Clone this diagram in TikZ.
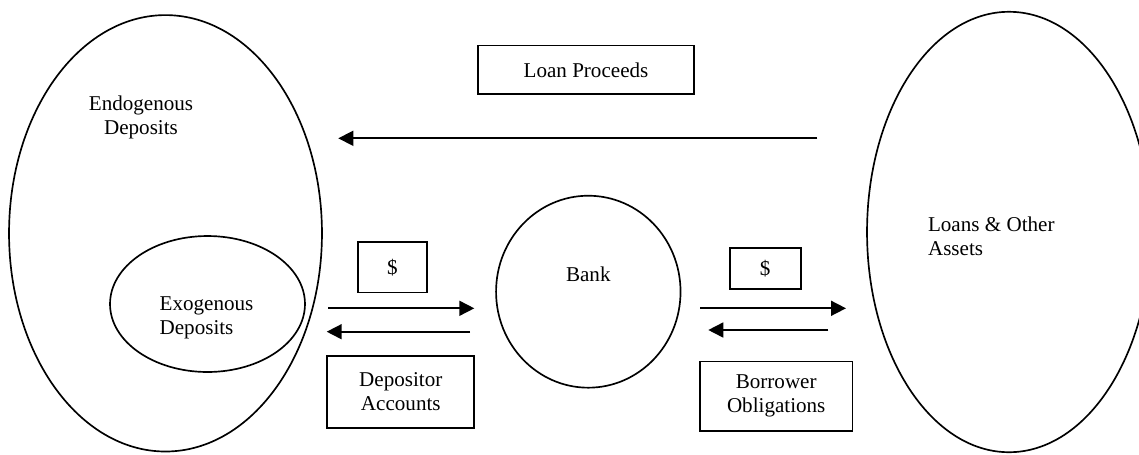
\documentclass[tikz,border=0pt]{standalone}
\usepackage{fontspec}
\setmainfont{Liberation Serif}
\usetikzlibrary{shapes.geometric,arrows.meta}
\begin{document}
\begin{tikzpicture}[x=0.02cm,y=-0.02cm,
  every node/.style={font=\fontsize{12}{13.6}\selectfont},
  oval/.style={draw,ellipse,inner sep=0pt,line width=0.95pt},
  box/.style={draw,rectangle,inner sep=0pt,line width=0.95pt,align=center},
  flow/.style={line width=0.95pt,-{Triangle[length=0.3cm,width=0.3cm]}},
  txt/.style={inner sep=0pt}]
\useasboundingbox (0,0) rectangle (1139,454);
\clip (0,0) rectangle (1139,454);
% ovals
\node[oval,minimum width=6.26cm,minimum height=8.73cm] (endo) at (165.5,233.3) {};
\node[txt,align=center] (endotxt) at (141,117) {Endogenous\\Deposits};
\node[oval,minimum width=3.9cm,minimum height=2.72cm] (exo) at (207.5,304) {};
\node[txt,align=left,anchor=west] (exotxt) at (159.3,318) {Exogenous\\Deposits};
\node[oval,minimum width=3.69cm,minimum height=3.84cm] (bank) at (588.3,291.7) {};
\node[txt] (banktxt) at (588.3,274) {Bank};
\node[oval,minimum width=5.68cm,minimum height=8.81cm] (loans) at (1009,232) {};
\node[txt,align=left,anchor=west] (loanstxt) at (927.7,236.5) {Loans \& Other\\Assets};
% boxes
\node[box,minimum width=4.33cm,minimum height=0.97cm] (proceeds) at (586,69.9) {Loan Proceeds};
\node[box,minimum width=1.39cm,minimum height=1.01cm] (dollarL) at (392.5,267.3) {\$};
\node[box,minimum width=1.42cm,minimum height=0.82cm] (dollarR) at (765.2,268.8) {\$};
\node[box,minimum width=2.94cm,minimum height=1.44cm] (depacc) at (400.8,391.7) {Depositor\\Accounts};
\node[box,minimum width=3.05cm,minimum height=1.39cm] (borobl) at (776.2,396.3) {Borrower\\Obligations};
% arrow end points
\coordinate (lpS) at (817.3,138.3);
\coordinate (lpE) at (338.3,138.3);
\coordinate (d1S) at (328.3,308.3);
\coordinate (d1E) at (474.3,308.3);
\coordinate (d2S) at (470,331.7);
\coordinate (d2E) at (326.7,331.7);
\coordinate (b1S) at (700,308.3);
\coordinate (b1E) at (846,308.3);
\coordinate (b2S) at (828.3,330);
\coordinate (b2E) at (708.3,330);
\draw[flow] (lpS) -- (lpE);
\draw[flow] (d1S) -- (d1E);
\draw[flow] (d2S) -- (d2E);
\draw[flow] (b1S) -- (b1E);
\draw[flow] (b2S) -- (b2E);
\end{tikzpicture}
\end{document}
